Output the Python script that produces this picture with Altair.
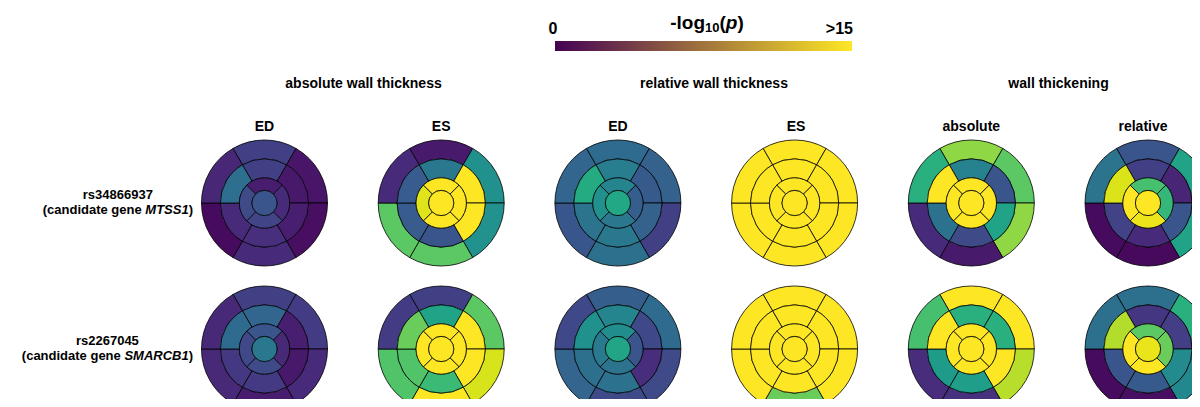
import altair as alt
import pandas as pd

# ---------------- data ----------------
group_titles = ["absolute wall thickness", "relative wall thickness", "wall thickening"]
column_labels = ["ED", "ES", "ED", "ES", "absolute", "relative"]
snps = ["rs34866937", "rs2267045"]
genes = ["MTSS1", "SMARCB1"]

# -log10(p) per AHA segment: basal ring (6, clockwise from top), mid ring (6),
# apical ring (4: top, right, bottom, left), apex (1)
r1_abs_ed = [2.8, 0.8, 0.5, 1.8, 0.4, 1.6,  2.8, 0.9, 1.2, 2.0, 1.8, 5.4,  1.1, 1.8, 3.0, 3.3,  3.9]
r1_abs_es = [1.0, 7.5, 7.6, 11.2, 11.2, 1.8,  6.0, 15, 15, 3.9, 4.3, 4.3,  15, 15, 15, 14.3,  15]
r1_rel_ed = [5.2, 4.6, 2.8, 5.5, 4.0, 4.9,  6.3, 4.2, 4.6, 6.0, 5.7, 9.2,  6.7, 4.4, 6.0, 7.5,  9.0]
r1_rel_es = [15, 15, 15, 15, 15, 15,  15, 15, 15, 15, 15, 15,  15, 15, 15, 15,  15]
r1_thk_abs = [12.5, 11.2, 12.5, 1.0, 1.8, 9.5,  6.6, 3.9, 8.7, 3.3, 5.6, 15,  15, 15, 15, 15,  15]
r1_thk_rel = [3.9, 8.7, 8.7, 0.3, 0.4, 5.7,  2.8, 1.5, 3.9, 1.8, 2.9, 14.2,  10.6, 10.0, 14.6, 15,  15]

r2_abs_ed = [2.8, 2.6, 1.8, 1.1, 1.7, 1.7,  4.9, 1.2, 0.9, 2.5, 2.4, 5.2,  3.9, 1.7, 3.3, 3.2,  6.0]
r2_abs_es = [2.8, 11.2, 14.1, 15, 10.9, 2.6,  8.7, 15, 15, 10.2, 10.9, 11.6,  15, 15, 15, 15,  15]
r2_rel_ed = [4.4, 5.2, 3.3, 3.3, 4.8, 3.2,  6.8, 3.2, 1.9, 5.6, 5.5, 7.5,  7.3, 3.9, 5.7, 6.1,  8.8]
r2_rel_es = [15, 15, 15, 11.6, 15, 15,  15, 15, 15, 15, 15, 15,  15, 15, 15, 15,  15]
r2_thk_abs = [15, 15, 13.4, 2.1, 1.9, 10.6,  9.5, 9.5, 15, 8.4, 8.2, 15,  15, 15, 15, 15,  15]
r2_thk_rel = [5.5, 9.5, 7.0, 0.5, 0.4, 5.5,  2.3, 2.7, 7.1, 4.2, 3.9, 13.3,  11.2, 11.6, 15, 15,  14.5]

panels = [
    [r1_abs_ed, r1_abs_es, r1_rel_ed, r1_rel_es, r1_thk_abs, r1_thk_rel],
    [r2_abs_ed, r2_abs_es, r2_rel_ed, r2_rel_es, r2_thk_abs, r2_thk_rel],
]

# ---------------- layout (chart pixel coordinates) ----------------
W, H = 1184, 391
X0, DX = 256.5, 176.7      # first column centre, column step
Y0, DY = 195.0, 146.0      # first row centre, row step
R = 63.0                   # bullseye radius
FONT = "Liberation Sans"
GROUP_X = [355.5, 706.0, 1050.5]          # group title centres
LABEL_DX = [0, 0, 0, 1.5, 0, -5]          # small nudges of column labels

rings = [  # (inner, outer, n segments, start angle of first segment)
    (0.7, 1.0, 6, 330.0),
    (0.4, 0.7, 6, 330.0),
    (0.2, 0.4, 4, 315.0),
    (0.0, 0.2, 1, 0.0),
]

rows = []
for ri, row in enumerate(panels):
    for ci, vals in enumerate(row):
        k = 0
        for (rin, rout, n, a0) in rings:
            step = 360.0 / n
            for s in range(n):
                rows.append(dict(cx=X0 + ci * DX, cy=Y0 + ri * DY,
                                 t0=a0 + s * step, t1=a0 + (s + 1) * step,
                                 r0=rin, r1=rout, v=vals[k]))
                k += 1
arcs_df = pd.DataFrame(rows)

xs = alt.Scale(domain=[0, W], range=[0, W], nice=False, zero=False)
ys = alt.Scale(domain=[0, H], range=[0, H], nice=False, zero=False)
ts = alt.Scale(domain=[0, 360], range=[0, 6.283185307179586])
rs = alt.Scale(type="linear", domain=[0, 1], range=[0, R], zero=True)
cs = alt.Scale(scheme="viridis", domain=[0, 15], clamp=True)

arcs = alt.Chart(arcs_df).mark_arc(stroke="black", strokeWidth=0.8).encode(
    x=alt.X("cx:Q", scale=xs, axis=None),
    y=alt.Y("cy:Q", scale=ys, axis=None),
    theta=alt.Theta("t0:Q", scale=ts, stack=False),
    theta2="t1:Q",
    radius=alt.Radius("r1:Q", scale=rs),
    radius2="r0:Q",
    color=alt.Color("v:Q", scale=cs, legend=None),
)

# ---- text helpers (Arial / Liberation Sans bold advance widths) ----
BW = {' ': 278, '(': 333, ')': 333, '-': 333, '>': 584, 'a': 556, 'b': 611, 'c': 556,
      'd': 611, 'e': 556, 'g': 611, 'h': 611, 'i': 278, 'k': 556, 'l': 278, 'n': 611,
      'o': 611, 'p': 611, 'r': 389, 's': 556, 't': 333, 'u': 611, 'v': 556, 'w': 778,
      'M': 833, 'T': 611, 'S': 667, 'A': 722, 'R': 722, 'C': 722, 'B': 722, 'E': 667, 'D': 722}


def tw(s, size):
    return sum(BW.get(ch, 556) for ch in s) * size / 1000.0


center_txt, left_txt, ital_txt = [], [], []

# group titles and column labels
for g, title in enumerate(group_titles):
    center_txt.append(dict(x=GROUP_X[g], y=80, t=title, fs=14))
for ci, lab in enumerate(column_labels):
    center_txt.append(dict(x=X0 + ci * DX + LABEL_DX[ci], y=123, t=lab, fs=14))

# row labels: block right-aligned, lines centred within the block
RIGHT = 185
FS_ROW = 13
for ri, (snp, gene) in enumerate(zip(snps, genes)):
    yb = 191 + ri * DY
    parts = [("(candidate gene ", False), (gene, True), (")", False)]
    total = sum(tw(p, FS_ROW) for p, _ in parts)
    x = RIGHT - total
    center_txt.append(dict(x=RIGHT - total / 2, y=yb, t=snp, fs=FS_ROW))
    for p, it in parts:
        (ital_txt if it else left_txt).append(dict(x=x, y=yb + 15, t=p, fs=FS_ROW))
        x += tw(p, FS_ROW)

# colour bar labels and title
CB_L, CB_R, CB_T, CB_B = 547, 844, 33, 43
center_txt.append(dict(x=CB_L - 2, y=25.5, t="0", fs=16))
left_txt.append(dict(x=CB_R + 1 - tw(">15", 16), y=25.5, t=">15", fs=16))
tparts = [("-log", 19, 0, False), ("10", 13, 3.5, False), ("(", 19, 0, False),
          ("p", 19, 0, True), (")", 19, 0, False)]
total = sum(tw(p, s) for p, s, _, _ in tparts)
x = 699 - total / 2
for p, s, dy, it in tparts:
    (ital_txt if it else left_txt).append(dict(x=x, y=20.5 + dy, t=p, fs=s))
    x += tw(p, s)


def text_layer(rows_, align, style):
    return alt.Chart(pd.DataFrame(rows_)).mark_text(
        align=align, baseline="alphabetic", font=FONT, fontWeight="bold",
        fontStyle=style, color="black").encode(
        x=alt.X("x:Q", scale=xs, axis=None),
        y=alt.Y("y:Q", scale=ys, axis=None),
        text="t:N",
        size=alt.Size("fs:Q", scale=None),
    )


grad = alt.LinearGradient(
    gradient="linear", x1=0, x2=1, y1=0, y2=0,
    stops=[alt.GradientStop(offset=0, color="#440154"),
           alt.GradientStop(offset=1, color="#fde725")])
cbar = alt.Chart(alt.Data(values=[{}])).mark_rect(fill=grad).encode(
    x=alt.value(CB_L), x2=alt.value(CB_R), y=alt.value(CB_T), y2=alt.value(CB_B))

chart = alt.layer(
    arcs,
    cbar,
    text_layer(center_txt, "center", "normal"),
    text_layer(left_txt, "left", "normal"),
    text_layer(ital_txt, "left", "italic"),
).properties(
    width=W, height=H, padding=0, autosize=alt.AutoSizeParams(type="none")
).configure_view(stroke=None)

chart.save("out.html", embed_options={"renderer": "svg", "actions": False})
